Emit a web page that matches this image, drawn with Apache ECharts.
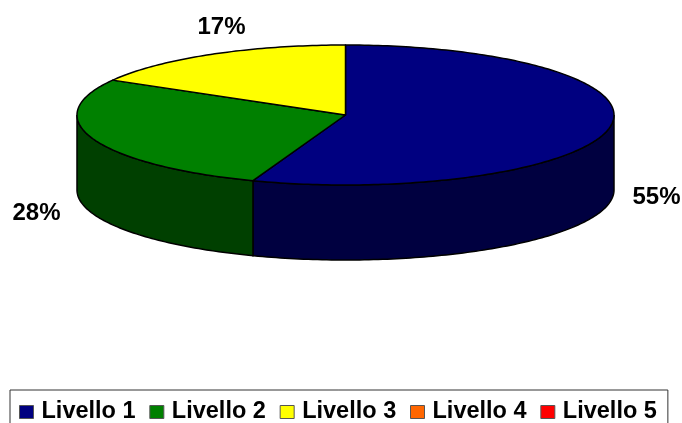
<!DOCTYPE html>
<html><head><meta charset="utf-8">
<style>html,body{margin:0;padding:0;background:#fff}#c{width:682px;height:423px}</style>
<script src="https://cdn.jsdelivr.net/npm/echarts@6/dist/echarts.min.js"></script>
</head><body><div id="c"></div>
<script>
const categories = ['Livello 1','Livello 2','Livello 3','Livello 4','Livello 5'];
const shares = [55.6,27.7,16.7,0,0];
const percentLabels = ['55%','28%','17%','',''];
const topColors = ['#000080','#008000','#FFFF00','#FF6600','#FF0000'];
const sideColors = ['#000040','#004000','#808000','#803300','#800000'];
const labelSpots = [[656.5,197],[36.5,213],[221.5,27],null,null];

const cx=345.5, cy=115, rx=268.5, ry=70, depth=75;
const total = shares.reduce((a,b)=>a+b,0);
const pt = (deg,dy)=>{const r=deg*Math.PI/180;return [cx+rx*Math.sin(r),cy-ry*Math.cos(r)+(dy||0)];};
const stroke = {stroke:'#000',lineWidth:1.5};

let acc=0;
const series = categories.map((name,i)=>{
  const start=acc/total*360; acc+=shares[i]; const end=acc/total*360;
  return {
    type:'custom', name, coordinateSystem:'none',
    itemStyle:{color:topColors[i]},
    data:[[start,end,shares[i]]],
    silent:true, animation:false,
    renderItem:(params,api)=>{
      const a=api.value(0), b=api.value(1), v=api.value(2);
      if(!(v>0)) return {type:'group',children:[]};
      const arc=[]; for(let d=a;d<=b;d+=1) arc.push(pt(d)); arc.push(pt(b));
      const children=[];
      const sa=Math.max(a,90), sb=Math.min(b,270);
      if(sb>sa){
        const f=[]; for(let d=sa;d<=sb;d+=1) f.push(pt(d)); f.push(pt(sb));
        const back=f.slice().reverse().map(p=>[p[0],p[1]+depth]);
        children.push({type:'polygon',shape:{points:f.concat(back)},style:{fill:sideColors[i],...stroke},z2:1});
      }
      children.push({type:'polygon',shape:{points:[[cx,cy],...arc]},style:{fill:topColors[i],...stroke,lineJoin:'round'},z2:2});
      if(labelSpots[i]) children.push({type:'text',x:labelSpots[i][0],y:labelSpots[i][1],z2:3,
        style:{text:percentLabels[i],fill:'#000',font:'bold 24px "Liberation Sans"',align:'center',verticalAlign:'middle'}});
      return {type:'group',children};
    }
  };
});

const chart=echarts.init(document.getElementById('c'),null,{renderer:'canvas'});
chart.setOption({
  animation:false,
  backgroundColor:'#fff',
  legend:{
    left:10, top:390, orient:'horizontal', icon:'rect',
    data:categories, selectedMode:false,
    itemWidth:14,itemHeight:13,itemGap:13.8,
    padding:[10,11,9,9],
    backgroundColor:'#fff',borderColor:'#333',borderWidth:1,
    itemStyle:{borderColor:'#555',borderWidth:1},
    textStyle:{fontFamily:'Liberation Sans',fontWeight:'bold',fontSize:23.5,color:'#000',padding:[0,0,0,3]}
  },
  series
});
</script></body></html>
